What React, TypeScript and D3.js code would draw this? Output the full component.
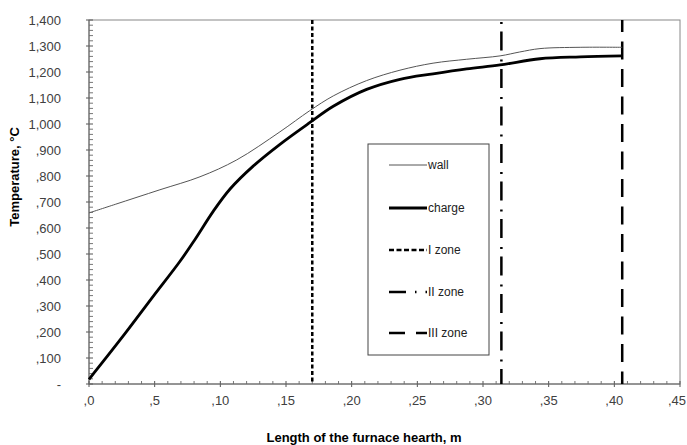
import React from "react";
import * as d3 from "d3";

const wallX = [0, 0.02, 0.054, 0.0845, 0.1125, 0.1454, 0.168, 0.186, 0.2114, 0.2368, 0.262, 0.2876, 0.313, 0.328, 0.3434, 0.374, 0.406];
const wallT = [658, 691, 747, 797, 862, 970, 1051, 1108, 1167, 1207, 1234, 1249, 1262, 1277, 1290, 1295, 1295];

const chargeX = [0, 0.025, 0.049, 0.0693, 0.0807, 0.0947, 0.1074, 0.125, 0.1454, 0.168, 0.186, 0.2114, 0.2368, 0.262, 0.2876, 0.313, 0.3434, 0.374, 0.406];
const chargeT = [18, 178, 338, 472, 556, 665, 750, 838, 922, 1005, 1068, 1133, 1172, 1193, 1212, 1227, 1251, 1258, 1262];

const zoneNames = ["I zone", "II zone", "III zone"];
const zoneX = [0.17, 0.314, 0.406];
const zoneDash = ["4,2.5", "19,9,2,7.5", "18,9.5"];
const zoneOffset = [0, 26, 6];

const yTickValues = [0, 100, 200, 300, 400, 500, 600, 700, 800, 900, 1000, 1100, 1200, 1300, 1400];
const yTickLabels = ["-", ",100", ",200", ",300", ",400", ",500", ",600", ",700", ",800", ",900", "1,000", "1,100", "1,200", "1,300", "1,400"];
const xTickValues = [0, 0.05, 0.1, 0.15, 0.2, 0.25, 0.3, 0.35, 0.4, 0.45];
const xTickLabels = [",0", ",5", ",10", ",15", ",20", ",25", ",30", ",35", ",40", ",45"];

const W = 687, H = 445;
const L = 89, R = 680, T = 20, B = 384;
const FONT = "'Liberation Sans', Arial, sans-serif";

export default function App() {
  const x = d3.scaleLinear().domain([0, 0.45]).range([L, R]);
  const y = d3.scaleLinear().domain([0, 1400]).range([B, T]);
  const line = d3.line<[number, number]>().x(d => x(d[0])).y(d => y(d[1])).curve(d3.curveCatmullRom.alpha(0.5));
  const wallPts = wallX.map((v, i) => [v, wallT[i]] as [number, number]);
  const chargePts = chargeX.map((v, i) => [v, chargeT[i]] as [number, number]);

  const yMinor = d3.range(0, 1401, 20).filter(v => v % 100 !== 0);
  const xMinor = d3.range(0, 46, 1).filter(v => v % 5 !== 0).map(v => v / 100);

  const legX = 368, legY = 144, legW = 121, legH = 211;
  const legRows = [165, 208, 250, 292, 333];
  const sx0 = 389, sx1 = 427;

  return (
    <svg width={W} height={H} style={{ position: "absolute", left: 0, top: 0 }} fontFamily={FONT}>
      <rect x={0} y={0} width={W} height={H} fill="#fff" />
      <rect x={L} y={T} width={R - L} height={B - T} fill="none" stroke="#888" strokeWidth={1} />
      {yTickValues.map((v, i) => (
        <g key={"yt" + i}>
          <line x1={L - 3} x2={L + 4} y1={y(v)} y2={y(v)} stroke="#555" />
          <text x={61} y={y(v)} dy="0.4em" textAnchor="end" fontSize={13} fill="#404040">{yTickLabels[i]}</text>
        </g>
      ))}
      {yMinor.map((v, i) => (
        <line key={"ym" + i} x1={L} x2={L + 4} y1={y(v)} y2={y(v)} stroke="#777" />
      ))}
      {xTickValues.map((v, i) => {
        const last = i === xTickValues.length - 1;
        return (
          <g key={"xt" + i}>
            <line x1={x(v)} x2={x(v)} y1={B - 3} y2={B + 3} stroke="#555" />
            <text x={last ? 686 : x(v)} y={405} textAnchor={last ? "end" : "middle"} fontSize={13} fill="#404040">{xTickLabels[i]}</text>
          </g>
        );
      })}
      {xMinor.map((v, i) => (
        <line key={"xm" + i} x1={x(v)} x2={x(v)} y1={B - 3} y2={B} stroke="#777" />
      ))}
      <line x1={L} x2={L} y1={T} y2={B} stroke="#666" />
      <line x1={L} x2={R} y1={B} y2={B} stroke="#666" />
      {zoneX.map((v, i) => (
        <line key={"z" + i} x1={x(v)} x2={x(v)} y1={T} y2={B} stroke="#000" strokeWidth={2.5} strokeDasharray={zoneDash[i]} strokeDashoffset={zoneOffset[i]} />
      ))}
      <path d={line(wallPts) || ""} fill="none" stroke="#555" strokeWidth={1} />
      <path d={line(chargePts) || ""} fill="none" stroke="#000" strokeWidth={2.8} />
      <rect x={legX} y={legY} width={legW} height={legH} fill="#fff" stroke="#444" strokeWidth={1} />
      <line x1={sx0} x2={sx1} y1={legRows[0]} y2={legRows[0]} stroke="#555" strokeWidth={1} />
      <line x1={sx0} x2={sx1} y1={legRows[1]} y2={legRows[1]} stroke="#000" strokeWidth={2.8} />
      <line x1={sx0} x2={sx1} y1={legRows[2]} y2={legRows[2]} stroke="#000" strokeWidth={2.5} strokeDasharray="5,2.5" />
      <line x1={sx0} x2={sx1} y1={legRows[3]} y2={legRows[3]} stroke="#000" strokeWidth={2.5} strokeDasharray="17,9,1.5,9" />
      <line x1={sx0} x2={sx1} y1={legRows[4]} y2={legRows[4]} stroke="#000" strokeWidth={2.5} strokeDasharray="16,11" />
      {["wall", "charge", ...zoneNames].map((n, i) => (
        <text key={"lg" + i} x={428} y={legRows[i]} dy="0.35em" fontSize={12} fill="#222">{n}</text>
      ))}
      <text x={364} y={442} textAnchor="middle" fontSize={13} fontWeight="bold" fill="#000">Length of the furnace hearth, m</text>
      <text transform={`translate(19,177) rotate(-90)`} textAnchor="middle" fontSize={13} fontWeight="bold" fill="#000">Temperature, °C</text>
    </svg>
  );
}
